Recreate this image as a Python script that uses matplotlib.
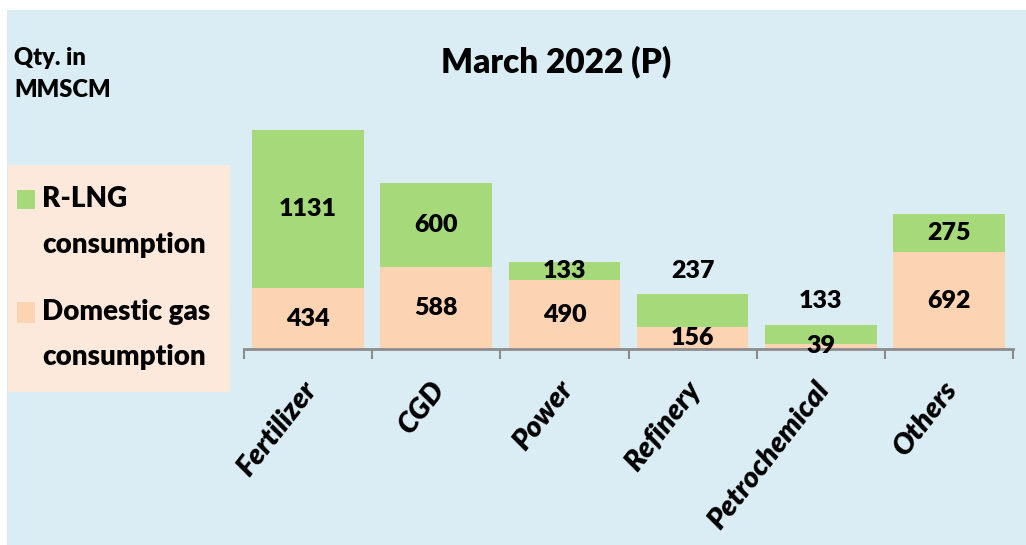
import numpy as np
import matplotlib
matplotlib.use('Agg')
import matplotlib.pyplot as plt
from matplotlib.patches import Rectangle

categories = ['Fertilizer', 'CGD', 'Power', 'Refinery', 'Petrochemical', 'Others']
domestic = [434, 588, 490, 156, 39, 692]
rlng = [1131, 600, 133, 237, 133, 275]
# R-LNG labels drawn above the bar where the segment is too thin
rlng_above = [False, False, False, True, True, False]

BLUE = '#DAEDF4'
GREEN = '#A6D97A'
PEACH = '#FCD3B3'
LEGBG = '#FDE9DC'
WT = 'heavy'

plt.rcParams['font.family'] = ['Lato', 'DejaVu Sans']

W, H = 1026, 545
fig = plt.figure(figsize=(W / 100, H / 100), dpi=100)
fig.patch.set_facecolor('white')
fig.patches.append(Rectangle((7 / W, 0), 1 - 7 / W, 1 - 10 / H, transform=fig.transFigure,
                             facecolor=BLUE, edgecolor='none', zorder=-10))

# legend panel
fig.patches.append(Rectangle((8 / W, 1 - 392 / H), 222 / W, 227 / H, transform=fig.transFigure,
                             facecolor=LEGBG, edgecolor='none', zorder=-5))
fig.patches.append(Rectangle((17 / W, 1 - 209 / H), 18 / W, 19 / H, transform=fig.transFigure,
                             facecolor=GREEN, edgecolor='none'))
fig.patches.append(Rectangle((17 / W, 1 - 323 / H), 18 / W, 21 / H, transform=fig.transFigure,
                             facecolor=PEACH, edgecolor='none'))
for txt, y in [('R-LNG', 199), ('consumption', 245), ('Domestic gas', 312), ('consumption', 357)]:
    fig.text(42 / W, 1 - y / H, txt, fontsize=20, fontweight=WT, va='center', ha='left')

fig.text(14 / W, 1 - 58 / H, 'Qty. in', fontsize=17, fontweight=WT, va='center', ha='left')
fig.text(14 / W, 1 - 90 / H, 'MMSCM', fontsize=17, fontweight=WT, va='center', ha='left')
fig.text(556 / W, 1 - 62 / H, 'March 2022 (P)', fontsize=24, fontweight=WT,
         va='center', ha='center')

# plot area
left, right, base = 244, 1013, 349
ymax = 1600
ppu = 219 / 1565.0
top = base - ymax * ppu
ax = fig.add_axes([left / W, 1 - base / H, (right - left) / W, (base - top) / H])
ax.set_facecolor('none')

x = np.arange(len(categories))
ax.bar(x, domestic, width=0.87, color=PEACH, zorder=2)
ax.bar(x, rlng, width=0.87, bottom=domestic, color=GREEN, zorder=2)
ax.set_xlim(-0.5, len(categories) - 0.5)
ax.set_ylim(0, ymax)

for s in ['top', 'right', 'left']:
    ax.spines[s].set_visible(False)
ax.spines['bottom'].set_color('#8C8C8C')
ax.spines['bottom'].set_linewidth(2)
ax.set_yticks([])
ax.set_xticks(np.arange(len(categories) + 1) - 0.5)
ax.set_xticklabels([])
ax.tick_params(axis='x', length=7, width=1.5, color='#8C8C8C')

for i in range(len(categories)):
    d, r = domestic[i], rlng[i]
    ax.text(i, d / 2, str(d), ha='center', va='center', fontsize=18, fontweight=WT, zorder=5)
    if rlng_above[i]:
        ax.annotate(str(r), (i, d + r), xytext=(0, 9), textcoords='offset points',
                    ha='center', va='bottom', fontsize=18, fontweight=WT)
    else:
        ax.text(i, d + r / 2, str(r), ha='center', va='center', fontsize=18, fontweight=WT)
    ax.annotate(categories[i], (i, 0), xytext=(-5, -20), textcoords='offset points',
                ha='right', va='top', rotation=52, rotation_mode='anchor',
                fontsize=21, fontweight=WT, fontstyle='italic', annotation_clip=False)

fig.savefig('out.png', dpi=100)
